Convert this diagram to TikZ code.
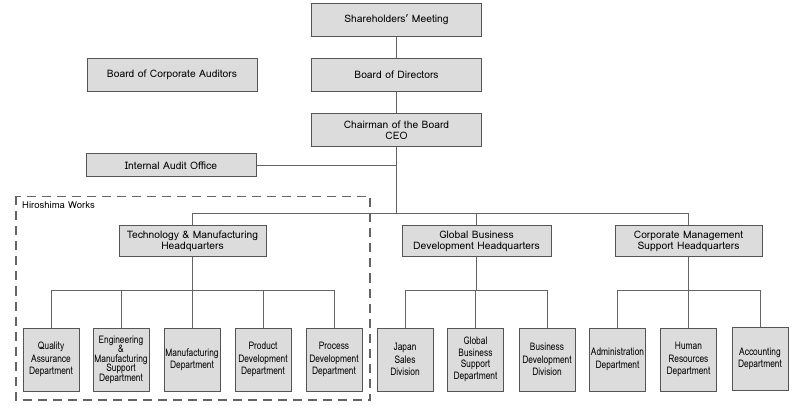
\documentclass[tikz,border=0pt]{standalone}
\usepackage{fontspec}
\setmainfont{Loma}
\usetikzlibrary{positioning}
\definecolor{boxfill}{HTML}{DCDCDC}
\definecolor{boxline}{HTML}{555555}
\definecolor{conline}{HTML}{646464}
\tikzset{
  box/.style={draw=boxline, fill=boxfill, line width=1pt, align=center, inner sep=1pt, font=\fontsize{10.3}{12}\selectfont},
  topbox/.style={box, minimum width=170pt, minimum height=33pt},
  hqbox/.style={box, minimum width=147pt, minimum height=31pt},
  deptbox/.style={box, minimum width=56pt, minimum height=63pt, font=\fontsize{10.5}{12.5}\selectfont},
  con/.style={draw=conline, line width=0.9pt},
}
\newcommand{\sq}[1]{\scalebox{0.8}[1]{#1}}
\begin{document}
\begin{tikzpicture}[x=1pt,y=-1pt]
\useasboundingbox (0,0) rectangle (794,411);
\node[topbox] (sh) at (396.5,20) {Shareholders’ Meeting};
\node[topbox] (bod) at (396.5,75) {Board of Directors};
\node[topbox] (ch) at (396.5,130) {Chairman of the Board\\[-1pt]CEO};
\node[topbox] (bca) at (172,75) {Board of Corporate Auditors};
\node[box, minimum width=170pt, minimum height=23pt] (ia) at (171,165.5) {Internal Audit Office};
\node[hqbox] (tech) at (192.5,241.5) {Technology \& Manufacturing\\[-1pt]Headquarters};
\node[hqbox, minimum width=149pt] (glob) at (476.5,241.5) {Global Business\\[-1pt]Development Headquarters};
\node[hqbox] (corp) at (688.5,241.5) {Corporate Management\\[-1pt]Support Headquarters};
% departments
\node[deptbox] (d1) at (51,359.5) {\sq{Quality}\\\sq{Assurance}\\\sq{Department}};
\node[deptbox] (d2) at (121,359.5) {\sq{Engineering}\\[-3pt]\sq{\&}\\[-3pt]\sq{Manufacturing}\\[-3pt]\sq{Support}\\[-3pt]\sq{Department}};
\node[deptbox] (d3) at (192,359.5) {\sq{Manufacturing}\\\sq{Department}};
\node[deptbox] (d4) at (263,359.5) {\sq{Product}\\\sq{Development}\\\sq{Department}};
\node[deptbox] (d5) at (334,359.5) {\sq{Process}\\\sq{Development}\\\sq{Department}};
\node[deptbox] (g1) at (405,359.5) {\sq{Japan}\\\sq{Sales}\\\sq{Division}};
\node[deptbox] (g2) at (475.5,359.5) {\sq{Global}\\[-1pt]\sq{Business}\\[-1pt]\sq{Support}\\[-1pt]\sq{Department}};
\node[deptbox] (g3) at (547,359.5) {\sq{Business}\\\sq{Development}\\\sq{Division}};
\node[deptbox] (c1) at (617.5,359.5) {\sq{Administration}\\\sq{Department}};
\node[deptbox] (c2) at (688.5,359.5) {\sq{Human}\\\sq{Resources}\\\sq{Department}};
\node[deptbox] (c3) at (760,359) {\sq{Accounting}\\\sq{Department}};
% dashed region
\draw[draw=conline, line width=1.2pt, dash pattern=on 9pt off 6pt] (16,196.5) rectangle (370,400);
\node[anchor=west, inner sep=0pt, font=\fontsize{9.5}{11}\selectfont] (hw) at (22,205.5) {Hiroshima Works};
% connectors
\coordinate (j) at (396.5,213);
\draw[con] (sh.south) -- (bod.north);
\draw[con] (bod.south) -- (ch.north);
\draw[con] (ch.south) -- (j);
\draw[con] (ia.east) -- (ia.east -| j);
\draw[con] (j) -| (tech.north);
\draw[con] (j) -| (glob.north);
\draw[con] (j) -| (corp.north);
\foreach \c in {d1,d2,d3,d4,d5}{\draw[con] (tech.south) -- ++(0,33) -| (\c.north);}
\foreach \c in {g1,g2,g3}{\draw[con] (glob.south) -- ++(0,33) -| (\c.north);}
\foreach \c in {c1,c2,c3}{\draw[con] (corp.south) -- ++(0,33) -| (\c.north);}
\end{tikzpicture}
\end{document}
